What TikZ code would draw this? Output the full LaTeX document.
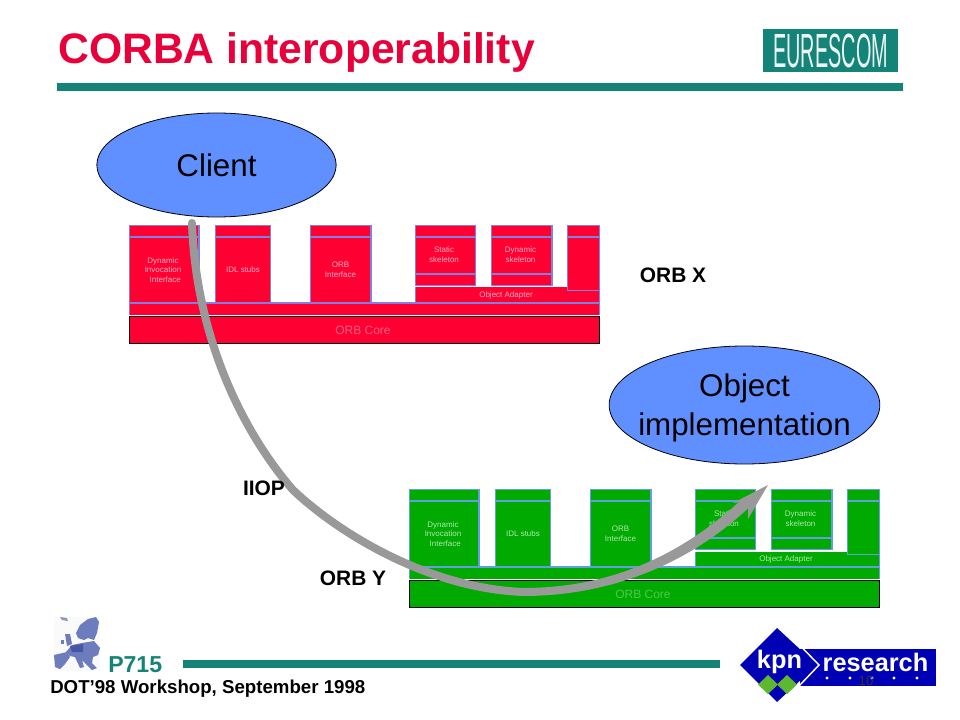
\documentclass[tikz,border=0pt]{standalone}
\usepackage{fontspec}
\setmainfont{Liberation Sans}
\usetikzlibrary{shapes.geometric}
\definecolor{teal1}{HTML}{158478}
\definecolor{titlered}{HTML}{E8003A}
\definecolor{ellblue}{HTML}{6090FF}
\definecolor{kpnblue}{HTML}{0000B4}
\definecolor{kpngreen}{HTML}{5CB82C}
\definecolor{arrowgray}{HTML}{999999}
\definecolor{redfill}{HTML}{FF0033}
\definecolor{redline}{HTML}{8080E0}
\definecolor{redtext}{HTML}{FFB0C0}
\definecolor{redcore}{HTML}{FF6080}
\definecolor{greenfill}{HTML}{00AA00}
\definecolor{greenline}{HTML}{60A0E0}
\definecolor{greentext}{HTML}{B0E8B0}
\definecolor{greencore}{HTML}{50C850}
\definecolor{mapblue}{HTML}{6C7CBC}
\definecolor{mapdark}{HTML}{4656A6}
\tikzset{
  orbbox/.style={draw=stackline,fill=stackfill,line width=1pt},
  orbsep/.style={draw=stackline,line width=1pt},
  tiny label/.style={text=stacktext,font=\fontsize{6}{7.2}\selectfont,align=center,inner sep=0pt},
  big ellipse/.style={ellipse,draw=black,line width=.6pt,fill=ellblue,inner sep=0pt},
  big text/.style={font=\fontsize{23.5}{29.25}\selectfont,align=center,inner sep=0pt},
  bold label/.style={font=\bfseries\fontsize{15.7}{18}\selectfont,inner sep=0pt},
  bar/.style={fill=teal1},
  map/.style={fill=mapblue},
}
\newcommand{\orbstack}[7]{%
 \colorlet{stackfill}{#3}\colorlet{stackline}{#4}\colorlet{stacktext}{#5}\colorlet{stackcore}{#6}
 \begin{scope}[shift={(#1,#2)}]
  \fill[stackfill] (129.5,303) rectangle (599.5,314.5);
  \draw[orbsep] (129.5,303) -- (129.5,314.5) (599.5,303) -- (599.5,314.5);
  \draw[orbbox] (129.5,225.5) rectangle (199,303);
  \draw[orbsep] (129.5,237) -- (199,237);
  \draw[orbbox] (215.5,225.5) rectangle (270.5,303);
  \draw[orbsep] (215.5,237) -- (270.5,237);
  \draw[orbbox] (310.5,225.5) rectangle (371,303);
  \draw[orbsep] (310.5,237) -- (371,237);
  \draw[orbbox] (415.5,225.5) rectangle (475.5,285.5);
  \draw[orbsep] (415.5,237) -- (475.5,237) (415.5,274) -- (475.5,274);
  \draw[orbbox] (491.5,225.5) rectangle (552,285.5);
  \draw[orbsep] (491.5,237) -- (552,237) (491.5,274) -- (552,274);
  \fill[stackfill] (415.5,287.5) rectangle (599.5,303);
  \draw[orbsep] (415.5,287.5) -- (415.5,303) (599.5,303) -- (599.5,287.5);
  \draw[orbbox] (567.5,225.5) rectangle (599.5,290.5);
  \draw[orbsep] (567.5,237) -- (599.5,237);
  \draw[orbsep] (129.5,303) -- (599.5,303);
  \draw[draw=black,fill=stackfill,line width=.7pt] (129.5,316.5) rectangle (599.5,343.5);
  \node[tiny label] (#7dii) at (163,270) {Dynamic\\Invocation\\\ \ Interface};
  \node[tiny label] (#7idl) at (243,270) {IDL stubs};
  \node[tiny label] (#7orb) at (340.5,270) {ORB\\Interface};
  \node[tiny label] (#7st) at (444,254.5) {Static\\skeleton};
  \node[tiny label] (#7dy) at (520.5,254.5) {Dynamic\\skeleton};
  \node[tiny label] (#7oa) at (506,295.5) {Object Adapter};
  \node[text=stackcore,inner sep=0pt,font=\fontsize{9}{10}\selectfont] (#7core) at (363,330) {ORB Core};
 \end{scope}}
\begin{document}
\begin{tikzpicture}[x=0.75pt,y=-0.75pt]
\useasboundingbox (0,0) rectangle (960,720);
\fill[white] (0,0) rectangle (960,720);

% title
\node[anchor=west,inner sep=0pt,text=titlered,font=\bfseries\fontsize{32}{40}\selectfont] (title) at (58,52) {CORBA interoperability};
\fill[bar] (57,83) rectangle (903,91);
\node[fill=teal1,minimum width=101.5pt,minimum height=32.5pt,inner sep=0pt,text=white!92!teal1] (eurescom) at (830.7,50.5)
  {\scalebox{.62}[1.5]{\fontsize{24}{24}\selectfont EURESCOM}};

% stacks
\orbstack{0}{0}{redfill}{redline}{redtext}{redcore}{x}
\orbstack{280}{264}{greenfill}{greenline}{greentext}{greencore}{y}

% ellipses
\node[big ellipse,minimum width=179.5pt,minimum height=78pt] (client) at (216.5,165) {};
\node[big text] (clienttext) at (client.center) {Client};
\node[big ellipse,minimum width=203pt,minimum height=88.5pt] (impl) at (744.5,405) {};
\node[big text] (impltext) at (744.5,407.5) {Object\\implementation};

% IIOP connector
\coordinate (start) at (192,223);
\coordinate (mid) at (293,490);
\coordinate (low) at (523,592);
\coordinate (neck) at (748,501);
\coordinate (tip) at (768,485);
\coordinate (headA) at (733,503);
\coordinate (headB) at (748,519);
\draw[arrowgray,line width=6pt,line cap=round] (start) .. controls (196,340) and (245,435) .. (mid)
   .. controls (335,530) and (425,588) .. (low);
\fill[arrowgray] ([yshift=3pt]low) .. controls (595,588) and (671,566) .. ([xshift=-2.8pt,yshift=3pt]neck)
   -- ([xshift=2.8pt,yshift=-3pt]neck) .. controls (679,574) and (595,596) .. ([yshift=-3pt]low) -- cycle;
\fill[arrowgray] (tip) -- (headA) -- (neck) -- (headB) -- cycle;

% labels
\node[bold label] (orbx) at (673,275) {ORB X};
\node[bold label] (orby) at (353,578.5) {ORB Y};
\node[bold label] (iiop) at (264,488) {IIOP};

% footer
\fill[bar] (183,660) rectangle (720,668);
\node[anchor=west,inner sep=0pt,text=teal1,font=\bfseries\fontsize{17.3}{20}\selectfont] (p715) at (108,665) {P715};
\node[anchor=west,inner sep=0pt,font=\bfseries\fontsize{14}{17}\selectfont] (dot) at (50,689) {DOT’98 Workshop, September 1998};

% Europe map
\fill[black!2] (54,617) rectangle (100,671);
\fill[map,opacity=.8] (60,617) -- (67,618) -- (68,621) -- (62,620) -- cycle;
\fill[map] (76,633) -- (80,625) -- (88,619) -- (96,617) -- (99,622) -- (97,633) -- (94,640) -- (88,638) -- (84,640) -- (78,638) -- cycle;
\fill[map] (65,634) -- (70,634) -- (72,644) -- (67,646) -- cycle;
\fill[map] (61,640) -- (64,640) -- (64,644) -- (61,644) -- cycle;
\fill[map] (66,652) -- (72,645) -- (82,643) -- (94,641) -- (100,648) -- (98,655) -- (93,657) -- (92,663) -- (97,668) -- (92,670) -- (86,664) -- (82,660) -- (84,667) -- (80,668) -- (75,657) -- (70,656) -- cycle;
\fill[map] (54,655) -- (67,652) -- (70,657) -- (65,664) -- (60,669) -- (55,667) -- cycle;
\fill[mapdark] (70,646) -- (83,644) -- (83,652) -- (72,652) -- cycle;

% kpn logo
\fill[kpnblue] (800,649) rectangle (936,686);
\fill[kpnblue] (777,628) -- (817,665) -- (777,702) -- (740,665) -- cycle;
\draw[white,line width=1.1pt] (802,647.5) -- (819,665) -- (799,686);
\node[inner sep=0pt,text=white,font=\bfseries\fontsize{19}{20}\selectfont] (kpn) at (779.5,662) {kpn};
\node[inner sep=0pt,text=white,font=\bfseries\fontsize{19}{20}\selectfont] (research) at (875.5,662.5) {research};
\foreach \px in {827,850,872,894,917} \fill[white] (\px,678) circle (1.2pt);
\fill[kpngreen] (768,675) -- (778,684.5) -- (768,694) -- (758,684.5) -- cycle;
\fill[kpngreen] (787,675) -- (797,684.5) -- (787,694) -- (777,684.5) -- cycle;
\node[inner sep=0pt,text=black!80,font=\fontsize{10}{12}\selectfont] (page) at (866,681) {10};
\end{tikzpicture}
\end{document}
